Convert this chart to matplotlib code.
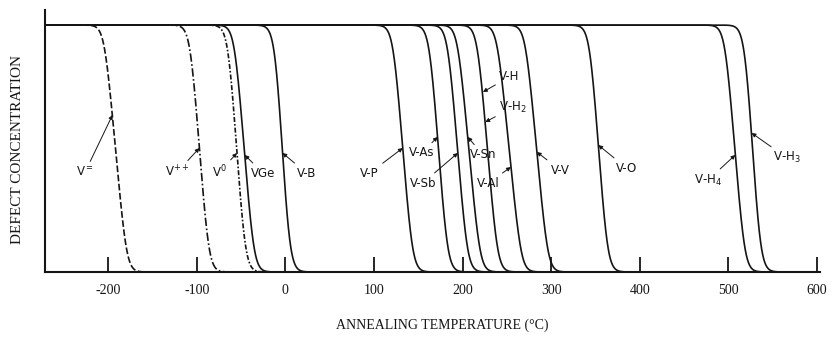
import numpy as np
import matplotlib.pyplot as plt

plt.rcParams['axes.unicode_minus'] = False

# defect annealing: temperature where the drop starts / ends (deg C)
defects = ['V=', 'V++', 'V0', 'VGe', 'V-B', 'V-P', 'V-As', 'V-Sb', 'V-Sn',
           'V-H', 'V-Al', 'V-V', 'V-O', 'V-H4', 'V-H3']
t_start = [-204, -107, -64, -57, -11, 122, 163, 183.5, 194.5,
           217, 239, 271, 344, 496.5, 519]
t_end = [-179.5, -87, -46, -36, 4, 143, 182.5, 205, 219.5,
         239, 266, 296, 363, 518, 535.5]

# label text, curve it points to, height of arrow tip, text position (T, y)
labels = ['V$^{=}$', 'V$^{++}$', 'V$^{0}$', 'VGe', 'V-B', 'V-P', 'V-As', 'V-Sb',
          'V-Sn', 'V-Al', 'V-H', 'V-H$_2$', 'V-V', 'V-O', 'V-H$_4$', 'V-H$_3$']
label_curve = ['V=', 'V++', 'V0', 'VGe', 'V-B', 'V-P', 'V-As', 'V-Sb',
               'V-Sn', 'V-Al', 'V-H', 'V-H', 'V-V', 'V-O', 'V-H4', 'V-H3']
tip_y = [0.636, 0.502, 0.482, 0.474, 0.482, 0.502, 0.547, 0.482,
         0.547, 0.425, 0.729, 0.607, 0.486, 0.514, 0.474, 0.563]
text_t = [-226, -122, -74, -25, 24, 95, 154, 155,
          223, 229, 253, 257, 310, 385, 477, 566]
text_y = [0.405, 0.405, 0.405, 0.40, 0.40, 0.40, 0.482, 0.36,
          0.474, 0.36, 0.79, 0.668, 0.413, 0.421, 0.372, 0.462]

xticks = [-200, -100, 0, 100, 200, 300, 400, 500, 600]

line_styles = {'V=': (0, (4, 1.5)), 'V++': (0, (5, 1.5, 1, 1.5)),
               'V0': (0, (3, 1.2, 1, 1.2))}
ink = '#151515'


def drop(T, t1, t2, s=3.5):
    # linear ramp from 1 to 0 between t1 and t2 with rounded corners
    sp = lambda u: np.logaddexp(0, u)
    return 1 - s / (t2 - t1) * (sp((T - t1) / s) - sp((T - t2) / s))


fig = plt.figure(figsize=(8.33, 3.4), dpi=100)
ax = fig.add_axes([45 / 833, 68 / 340, 775 / 833, 262 / 340])
ax.set_xlim(-271.3, 603.4)
ax.set_ylim(0, 1.061)

T = np.linspace(-271.3, 603.4, 3000)
for name, t1, t2 in zip(defects, t_start, t_end):
    ls = line_styles.get(name, '-')
    ax.plot(T, drop(T, t1, t2), color=ink, lw=1.2, ls=ls, clip_on=False)

for lab, cname, ty, xt, yt in zip(labels, label_curve, tip_y, text_t, text_y):
    i = defects.index(cname)
    tx = t_start[i] + (1 - ty) * (t_end[i] - t_start[i])
    ax.annotate(lab, xy=(tx, ty), xytext=(xt, yt), ha='center', va='center',
                fontsize=8.5, color=ink,
                arrowprops=dict(arrowstyle='-|>', lw=0.7, color=ink,
                                mutation_scale=6, shrinkA=1, shrinkB=0))

for side in ['top', 'right']:
    ax.spines[side].set_visible(False)
for side in ['left', 'bottom']:
    ax.spines[side].set_linewidth(1.5)
    ax.spines[side].set_color(ink)

ax.set_yticks([])
ax.set_xticks(xticks)
ax.set_xticklabels([str(v) for v in xticks])
ax.tick_params(axis='x', direction='in', length=11, width=1.3, pad=9,
               labelsize=10, colors=ink)
for t in ax.get_xticklabels():
    t.set_fontfamily('Liberation Serif')

fig.text(442 / 833, 1 - 325 / 340, 'ANNEALING TEMPERATURE (°C)',
         ha='center', va='center', fontsize=10, family='Liberation Serif', color=ink)
fig.text(18 / 833, 1 - 150 / 340, 'DEFECT CONCENTRATION', rotation=90,
         ha='center', va='center', fontsize=11, family='Liberation Serif', color=ink)

fig.savefig('out.png', dpi=100)
